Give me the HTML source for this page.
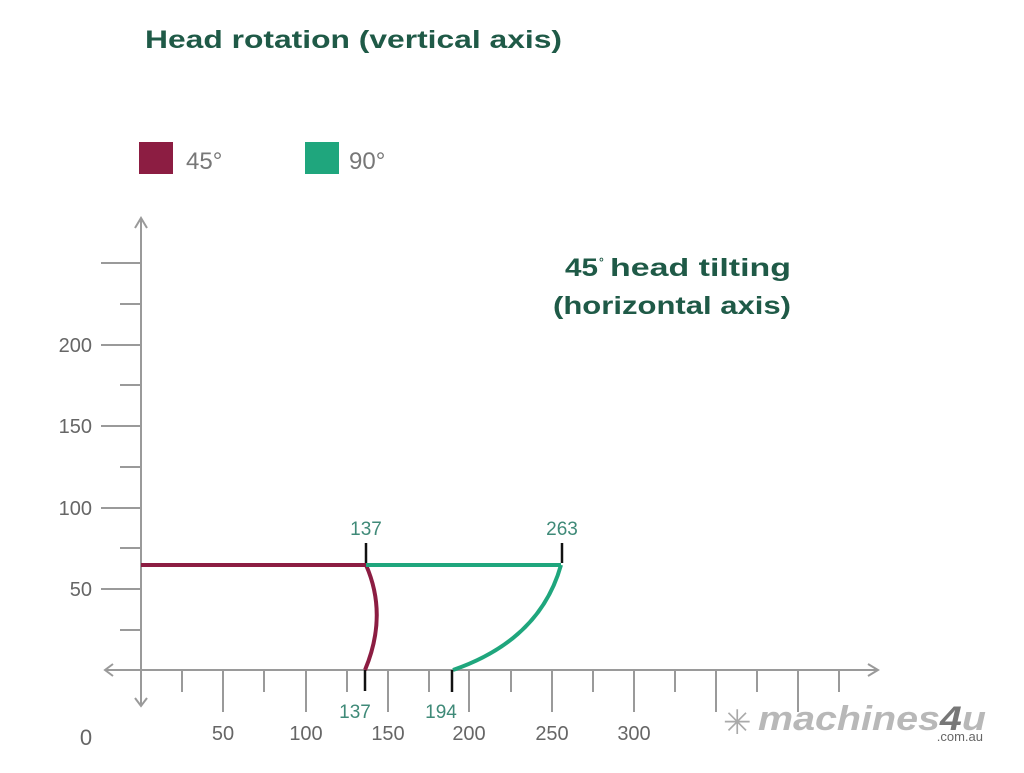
<!DOCTYPE html>
<html><head><style>
body{margin:0;background:#fff;width:1024px;height:768px;overflow:hidden;}
svg text{font-family:"Liberation Sans",sans-serif;}
</style></head><body>
<svg width="1024" height="768" xmlns="http://www.w3.org/2000/svg">
<text x="145" y="48" font-size="25" font-weight="bold" fill="#1f5a47" textLength="417" lengthAdjust="spacingAndGlyphs">Head rotation (vertical axis)</text>
<rect x="139" y="142" width="34" height="32" fill="#8c1d42"/>
<text x="186" y="169" font-size="24" fill="#777">45°</text>
<rect x="305" y="142" width="34" height="32" fill="#1fa67d"/>
<text x="349" y="169" font-size="24" fill="#777">90°</text>
<text x="565" y="276" font-size="25" font-weight="bold" fill="#1f5a47" textLength="33" lengthAdjust="spacingAndGlyphs">45</text>
<text x="599" y="266" font-size="12" font-weight="bold" fill="#1f5a47">°</text>
<text x="610" y="276" font-size="25" font-weight="bold" fill="#1f5a47" textLength="181" lengthAdjust="spacingAndGlyphs">head tilting</text>
<text x="553" y="314" font-size="25" font-weight="bold" fill="#1f5a47" textLength="238" lengthAdjust="spacingAndGlyphs">(horizontal axis)</text>
<g stroke="#9a9a9a" stroke-width="2" fill="none">
<line x1="141" y1="218" x2="141" y2="706"/>
<polyline points="135,228 141,218 147,228"/>
<polyline points="135,698 141,706 147,698"/>
<line x1="105" y1="670" x2="878" y2="670"/>
<polyline points="868,664 878,670 868,676"/>
<polyline points="113,664 105,670 113,676"/>
<line x1="101" y1="263" x2="141" y2="263"/>
<line x1="120" y1="304" x2="141" y2="304"/>
<line x1="101" y1="345" x2="141" y2="345"/>
<line x1="120" y1="385" x2="141" y2="385"/>
<line x1="101" y1="426" x2="141" y2="426"/>
<line x1="120" y1="467" x2="141" y2="467"/>
<line x1="101" y1="508" x2="141" y2="508"/>
<line x1="120" y1="548" x2="141" y2="548"/>
<line x1="101" y1="589" x2="141" y2="589"/>
<line x1="120" y1="630" x2="141" y2="630"/>
<line x1="182" y1="670" x2="182" y2="692"/>
<line x1="223" y1="670" x2="223" y2="712"/>
<line x1="264" y1="670" x2="264" y2="692"/>
<line x1="306" y1="670" x2="306" y2="712"/>
<line x1="347" y1="670" x2="347" y2="692"/>
<line x1="388" y1="670" x2="388" y2="712"/>
<line x1="429" y1="670" x2="429" y2="692"/>
<line x1="469" y1="670" x2="469" y2="712"/>
<line x1="511" y1="670" x2="511" y2="692"/>
<line x1="552" y1="670" x2="552" y2="712"/>
<line x1="593" y1="670" x2="593" y2="692"/>
<line x1="634" y1="670" x2="634" y2="712"/>
<line x1="675" y1="670" x2="675" y2="692"/>
<line x1="716" y1="670" x2="716" y2="712"/>
<line x1="757" y1="670" x2="757" y2="692"/>
<line x1="798" y1="670" x2="798" y2="712"/>
<line x1="839" y1="670" x2="839" y2="692"/>
</g>
<g font-size="20" fill="#666" text-anchor="end">
<text x="92" y="352">200</text><text x="92" y="433">150</text><text x="92" y="515">100</text><text x="92" y="596">50</text>
</g>
<g font-size="20" fill="#666" text-anchor="middle">
<text x="86" y="745" font-size="22">0</text>
<text x="223" y="740">50</text><text x="306" y="740">100</text><text x="388" y="740">150</text><text x="469" y="740">200</text><text x="552" y="740">250</text><text x="634" y="740">300</text>
</g>
<path d="M141,565 L366,565" stroke="#8c1d42" stroke-width="4" fill="none"/>
<path d="M366,565 Q388,615 365,670" stroke="#8c1d42" stroke-width="4" fill="none"/>
<path d="M366,565 L561,565" stroke="#1fa67d" stroke-width="4" fill="none"/>
<path d="M561,565 Q540,640 453,670" stroke="#1fa67d" stroke-width="4" fill="none"/>
<g stroke="#111" stroke-width="2.5">
<line x1="366" y1="543" x2="366" y2="563"/><line x1="562" y1="543" x2="562" y2="563"/>
<line x1="365" y1="670" x2="365" y2="691"/><line x1="452" y1="670" x2="452" y2="692"/>
</g>
<g font-size="19" fill="#3f8a78" text-anchor="middle">
<text x="366" y="535">137</text><text x="562" y="535">263</text>
<text x="355" y="718">137</text><text x="441" y="718">194</text>
</g>
<text x="723" y="734" font-size="34" fill="#aaa">✳</text>
<text x="758" y="730" font-size="34" font-weight="bold" font-style="italic" fill="#b8b8b8" textLength="228" lengthAdjust="spacingAndGlyphs">machines<tspan fill="#777">4</tspan>u</text>
<text x="983" y="741" font-size="13" fill="#666" text-anchor="end">.com.au</text>
</svg>
</body></html>
